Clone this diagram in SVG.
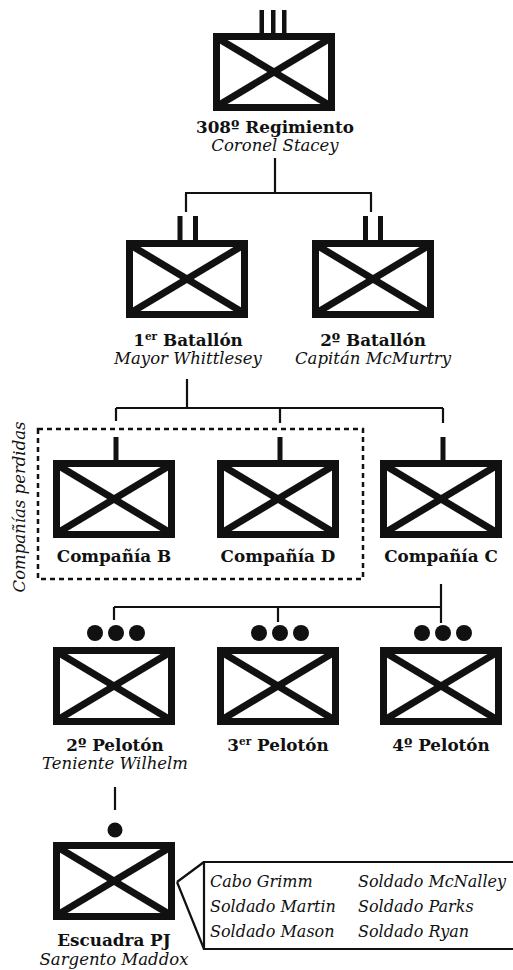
<svg xmlns="http://www.w3.org/2000/svg" xmlns:xlink="http://www.w3.org/1999/xlink" width="513" height="970" viewBox="0 0 513 970">
<style>
.lbl{font-family:"DejaVu Serif","Liberation Serif",serif;font-weight:bold;font-size:16.8px;fill:#111;text-anchor:middle}
.name{font-family:"DejaVu Serif","Liberation Serif",serif;font-style:italic;font-size:16.5px;fill:#111;text-anchor:middle}
.crew{font-family:"DejaVu Serif","Liberation Serif",serif;font-style:italic;font-size:16px;fill:#111}
.sup{font-size:10.5px}
.conn{stroke:#111;stroke-width:2.2;fill:none}
.bar{fill:#111}
.box{fill:#fff;stroke:#111;stroke-width:7}
.x{stroke:#111;stroke-width:7}
</style>
<defs>
<symbol id="unit" viewBox="0 0 122 78" width="122" height="78">
<rect class="box" x="3.5" y="3.5" width="115" height="71"/>
<line class="x" x1="6" y1="6" x2="116" y2="72"/>
<line class="x" x1="116" y1="6" x2="6" y2="72"/>
</symbol>
</defs>
<rect width="513" height="970" fill="#fff"/>

<g id="connectors">
<path class="conn" d="M275,158 V193 M185,193 H372 M186,193 V212 M371,193 V212"/>
<path class="conn" d="M187,379 V408 M116,408 H443 M116,408 V421 M280,408 V423 M443,408 V423"/>
<path class="conn" d="M441,584 V623 M114,607 H441 M114,607 V620 M278,607 V622"/>
<path class="conn" d="M115,787 V810"/>
<path class="conn" d="M177,882 L204,862 M177,882 L204,949"/>
</g>

<g id="regimiento">
<rect class="bar" x="259.5" y="10" width="4.5" height="24"/>
<rect class="bar" x="271" y="10" width="4.5" height="24"/>
<rect class="bar" x="282" y="10" width="4.5" height="24"/>
<use xlink:href="#unit" x="213" y="33"/>
<text class="lbl" x="275" y="133">308º Regimiento</text>
<text class="name" x="275" y="151">Coronel Stacey</text>
</g>

<g id="batallon1">
<rect class="bar" x="177.5" y="216" width="5" height="25"/>
<rect class="bar" x="193" y="216" width="5" height="25"/>
<use xlink:href="#unit" x="126" y="240"/>
<text class="lbl" x="188" y="346">1<tspan class="sup" dy="-6">er</tspan><tspan dy="6"> Batallón</tspan></text>
<text class="name" x="188" y="364">Mayor Whittlesey</text>
</g>

<g id="batallon2">
<rect class="bar" x="363" y="216" width="5" height="25"/>
<rect class="bar" x="378" y="216" width="5" height="25"/>
<use xlink:href="#unit" x="312" y="240"/>
<text class="lbl" x="373" y="346">2º Batallón</text>
<text class="name" x="373" y="364">Capitán McMurtry</text>
</g>

<g id="perdidas">
<rect x="38" y="429" width="325" height="150" fill="none" stroke="#111" stroke-width="2.5" stroke-dasharray="5,4"/>
<text class="name" font-size="18.5" transform="translate(25,507) rotate(-90)">Compañías perdidas</text>
</g>

<g id="companiaB">
<rect class="bar" x="113.5" y="437" width="5" height="24"/>
<use xlink:href="#unit" x="53" y="460"/>
<text class="lbl" x="114" y="562">Compañía B</text>
</g>

<g id="companiaD">
<rect class="bar" x="277.5" y="437" width="5" height="24"/>
<use xlink:href="#unit" x="217" y="460"/>
<text class="lbl" x="278" y="562">Compañía D</text>
</g>

<g id="companiaC">
<rect class="bar" x="440.5" y="437" width="5" height="24"/>
<use xlink:href="#unit" x="380" y="460"/>
<text class="lbl" x="441" y="562">Compañía C</text>
</g>

<g id="peloton2">
<circle class="bar" cx="95" cy="633" r="8"/>
<circle class="bar" cx="116" cy="633" r="8"/>
<circle class="bar" cx="137" cy="633" r="8"/>
<use xlink:href="#unit" x="53" y="647"/>
<text class="lbl" x="115" y="751">2º Pelotón</text>
<text class="name" x="115" y="769">Teniente Wilhelm</text>
</g>

<g id="peloton3">
<circle class="bar" cx="259" cy="633" r="8"/>
<circle class="bar" cx="280" cy="633" r="8"/>
<circle class="bar" cx="301" cy="633" r="8"/>
<use xlink:href="#unit" x="217" y="647"/>
<text class="lbl" x="278" y="751">3<tspan class="sup" dy="-6">er</tspan><tspan dy="6"> Pelotón</tspan></text>
</g>

<g id="peloton4">
<circle class="bar" cx="422" cy="633" r="8"/>
<circle class="bar" cx="443" cy="633" r="8"/>
<circle class="bar" cx="464" cy="633" r="8"/>
<use xlink:href="#unit" x="380" y="647"/>
<text class="lbl" x="441" y="751">4º Pelotón</text>
</g>

<g id="escuadra">
<circle class="bar" cx="115" cy="830" r="7.5"/>
<use xlink:href="#unit" x="53" y="842"/>
<text class="lbl" x="114" y="946">Escuadra PJ</text>
<text class="name" x="114" y="965">Sargento Maddox</text>
</g>

<g id="miembros">
<path class="conn" d="M513,862 H204 V949 H513"/>
<text class="crew" x="210" y="887">Cabo Grimm</text>
<text class="crew" x="210" y="912">Soldado Martin</text>
<text class="crew" x="210" y="937">Soldado Mason</text>
<text class="crew" x="358" y="887">Soldado McNalley</text>
<text class="crew" x="358" y="912">Soldado Parks</text>
<text class="crew" x="358" y="937">Soldado Ryan</text>
</g>
</svg>
